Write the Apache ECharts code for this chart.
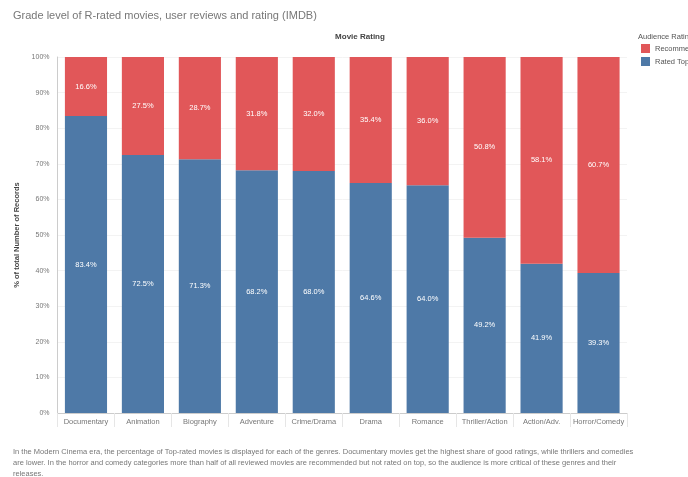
<!DOCTYPE html>
<html><head><meta charset="utf-8">
<script src="https://cdn.jsdelivr.net/npm/echarts@6/dist/echarts.min.js"></script>
<style>html,body{margin:0;padding:0;background:#fff}#c{width:688px;height:477px}</style>
</head><body><div id="c"></div>
<script>
const categories = ['Documentary','Animation','Biography','Adventure','Crime/Drama','Drama','Romance','Thriller/Action','Action/Adv.','Horror/Comedy'];
const blueValues = [83.4, 72.5, 71.3, 68.2, 68.0, 64.6, 64.0, 49.2, 41.9, 39.3];
const redValues  = [16.6, 27.5, 28.7, 31.8, 32.0, 35.4, 36.0, 50.8, 58.1, 60.7];
const blueName = 'Rated Top';
const redName = 'Recommended';
const yTicks = {min: 0, max: 100, interval: 10};

const chart = echarts.init(document.getElementById('c'));
const lbl = {show: true, position: 'inside', color: '#fff', fontSize: 7.5, fontFamily: 'Arial, Liberation Sans',
  formatter: p => p.value.toFixed(1) + '%'};
chart.setOption({
  animation: false,
  textStyle: {fontFamily: 'Arial, Liberation Sans'},
  title: [
    {text: 'Grade level of R-rated movies, user reviews and rating (IMDB)', left: 8, top: 5,
     textStyle: {fontSize: 11, fontWeight: 'normal', color: '#777'}},
    {text: 'Movie Rating', left: 355, top: 28, textAlign: 'center',
     textStyle: {fontSize: 8, fontWeight: 'bold', color: '#444'}},
    {text: 'Audience Rating', left: 633, top: 28,
     textStyle: {fontSize: 7.5, fontWeight: 'normal', color: '#555'}},
    {text: 'In the Modern Cinema era, the percentage of Top-rated movies is displayed for each of the genres. Documentary movies get the highest share of good ratings, while thrillers and comedies\nare lower. In the horror and comedy categories more than half of all reviewed movies are recommended but not rated on top, so the audience is more critical of these genres and their\nreleases.',
     left: 8, top: 441, textStyle: {fontSize: 7.5, fontWeight: 'normal', color: '#777', lineHeight: 11}}
  ],
  legend: {
    data: [redName, blueName], orient: 'vertical', left: 636, top: 39, itemWidth: 9, itemHeight: 9, itemGap: 4,
    icon: 'rect', textStyle: {fontSize: 7.5, color: '#555'}
  },
  grid: {left: 57.5, right: 61, top: 57, bottom: 64},
  xAxis: {
    type: 'category', data: categories,
    axisLine: {show: true, lineStyle: {color: '#ccc'}},
    axisTick: {show: true, length: 14, inside: false, lineStyle: {color: '#e6e6e6'}},
    axisLabel: {fontSize: 7.5, color: '#777', margin: 5, interval: 0}
  },
  yAxis: {
    type: 'value', min: yTicks.min, max: yTicks.max, interval: yTicks.interval,
    name: '% of total Number of Records', nameLocation: 'middle', nameGap: 36,
    nameTextStyle: {fontSize: 7.5, fontWeight: 'bold', color: '#444'},
    axisLine: {show: true, lineStyle: {color: '#ccc'}},
    axisTick: {show: false},
    splitLine: {show: true, lineStyle: {color: '#f3f3f3'}},
    axisLabel: {fontSize: 7, color: '#777', formatter: '{value}%'}
  },
  series: [
    {name: blueName, type: 'bar', stack: 's', data: blueValues, barCategoryGap: '26%',
     itemStyle: {color: '#4e79a7'}, label: lbl},
    {name: redName, type: 'bar', stack: 's', data: redValues, barCategoryGap: '26%',
     itemStyle: {color: '#e15759'}, label: lbl}
  ]
});
</script></body></html>
